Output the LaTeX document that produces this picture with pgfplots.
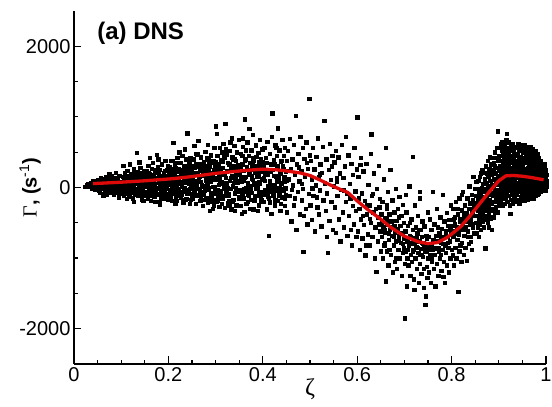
\documentclass[border=0pt]{standalone}
\usepackage{fontspec}
\setmainfont{Liberation Sans}
\newfontfamily\greekserif{Liberation Serif}
\usepackage{pgfplots}
\pgfplotsset{compat=1.18}
\definecolor{meanred}{RGB}{222,10,10}

% scattered DNS samples of Gamma against zeta
\pgfplotstableread{
x y
0.023 15
0.027 40
0.030 55
0.032 20
0.035 70
0.037 -10
0.039 45
0.041 90
0.042 5
0.044 60
0.045 -30
0.046 30
0.048 80
0.049 -15
0.050 50
0.051 110
0.052 -40
0.053 25
0.054 70
0.055 -70
0.056 140
0.057 10
0.058 55
0.059 -20
0.060 95
0.061 -85
0.062 35
0.063 120
0.064 0
0.065 75
0.066 -50
0.067 150
0.068 20
0.069 -95
0.070 60
0.071 100
0.072 -30
0.073 45
0.074 130
0.075 -10
0.076 80
0.077 -65
0.078 15
0.079 160
0.080 40
0.081 -45
0.082 110
0.083 65
0.084 -100
0.085 5
0.086 90
0.087 -25
0.088 140
0.089 30
0.090 -75
0.091 70
0.092 120
0.093 -5
0.094 -55
0.095 50
0.096 170
0.097 15
0.098 -90
0.099 85
0.100 35
0.062 -120
0.088 210
0.075 190
0.095 -140
0.101 60
0.102 -60
0.103 150
0.104 20
0.105 -110
0.106 95
0.107 200
0.108 -20
0.109 45
0.110 130
0.111 -85
0.112 10
0.113 240
0.114 75
0.115 -40
0.116 170
0.117 -130
0.118 35
0.119 110
0.120 -5
0.121 190
0.122 -70
0.123 60
0.124 140
0.125 -150
0.126 25
0.127 260
0.128 90
0.129 -35
0.130 -95
0.131 160
0.132 50
0.133 490
0.134 -15
0.135 220
0.136 115
0.137 -120
0.138 5
0.139 70
0.140 280
0.141 -60
0.142 185
0.143 40
0.144 -165
0.145 135
0.146 -25
0.147 -190
0.148 85
0.149 230
0.150 15
0.104 310
0.112 -160
0.118 330
0.126 -200
0.138 360
0.143 -5
0.121 100
0.108 175
0.131 -45
0.146 55
0.115 30
0.128 200
0.135 -80
0.149 120
0.140 -110
0.151 80
0.152 -100
0.153 240
0.154 20
0.155 150
0.156 -160
0.157 310
0.158 55
0.159 -40
0.160 190
0.161 115
0.162 -185
0.163 30
0.164 270
0.165 -70
0.166 90
0.167 350
0.168 -15
0.169 160
0.170 -130
0.171 45
0.172 220
0.173 -55
0.174 125
0.175 465
0.176 0
0.177 290
0.178 -95
0.179 70
0.180 180
0.181 -200
0.182 250
0.183 35
0.184 -30
0.185 140
0.186 330
0.187 -150
0.188 100
0.189 10
0.190 210
0.191 -75
0.192 60
0.193 380
0.194 -120
0.195 165
0.196 -10
0.197 245
0.198 85
0.199 -175
0.200 130
0.153 -60
0.158 200
0.163 -120
0.168 110
0.172 -200
0.178 400
0.183 150
0.188 -90
0.193 60
0.198 300
0.156 40
0.166 -20
0.176 230
0.186 -60
0.196 95
0.161 420
0.181 -240
0.201 40
0.202 -130
0.203 290
0.204 120
0.205 -40
0.206 380
0.207 200
0.208 -190
0.209 60
0.210 635
0.211 160
0.212 -80
0.213 330
0.214 10
0.215 240
0.216 -150
0.217 95
0.218 -190
0.219 420
0.220 145
0.221 -20
0.222 270
0.223 50
0.224 -110
0.225 350
0.226 185
0.227 -60
0.228 20
0.229 450
0.230 225
0.231 -210
0.232 110
0.233 300
0.234 -5
0.235 160
0.236 -170
0.237 400
0.238 75
0.239 -90
0.240 770
0.241 255
0.242 130
0.243 -35
0.244 360
0.245 -230
0.246 200
0.247 30
0.248 310
0.249 -120
0.250 100
0.203 -70
0.207 30
0.212 180
0.216 350
0.221 90
0.226 -140
0.231 250
0.236 65
0.241 -60
0.246 420
0.205 230
0.214 -220
0.223 500
0.232 -40
0.243 170
0.249 280
0.218 140
0.228 -100
0.238 210
0.209 380
0.234 540
0.247 -170
0.251 150
0.252 -160
0.253 400
0.254 60
0.255 -60
0.256 280
0.257 190
0.258 -230
0.259 480
0.260 30
0.261 -110
0.262 330
0.263 660
0.264 120
0.265 -20
0.266 240
0.267 -190
0.268 80
0.269 430
0.270 170
0.271 -80
0.272 310
0.273 -260
0.274 20
0.275 360
0.276 220
0.277 -40
0.278 510
0.279 100
0.280 -150
0.281 260
0.282 50
0.283 -210
0.284 400
0.285 140
0.286 -10
0.287 300
0.288 -330
0.289 90
0.290 460
0.291 200
0.292 -100
0.293 350
0.294 10
0.295 -180
0.296 250
0.297 560
0.298 130
0.299 -50
0.300 870
0.253 -110
0.258 90
0.262 210
0.267 340
0.271 40
0.276 -170
0.281 420
0.286 270
0.291 -70
0.296 -250
0.255 590
0.265 150
0.275 -100
0.285 230
0.295 380
0.257 -20
0.268 -140
0.279 310
0.289 170
0.299 290
0.261 470
0.283 610
0.294 -300
0.301 120
0.302 -200
0.303 450
0.304 250
0.305 -40
0.306 330
0.307 40
0.308 -270
0.309 560
0.310 180
0.311 -100
0.312 390
0.313 80
0.314 -150
0.315 280
0.316 620
0.317 -10
0.318 210
0.319 -290
0.320 900
0.321 140
0.322 -60
0.323 470
0.324 60
0.325 -220
0.326 350
0.327 240
0.328 -120
0.329 520
0.330 100
0.331 -20
0.332 300
0.333 -310
0.334 160
0.335 430
0.336 20
0.337 -170
0.338 260
0.339 590
0.340 130
0.341 -80
0.342 380
0.343 200
0.344 -250
0.345 500
0.346 70
0.347 -30
0.348 320
0.349 680
0.350 -140
0.304 -120
0.309 60
0.314 500
0.319 200
0.324 -30
0.329 -190
0.334 700
0.339 310
0.344 90
0.349 -60
0.306 150
0.313 -230
0.322 540
0.327 -90
0.336 400
0.343 -10
0.348 190
0.311 260
0.318 430
0.331 640
0.341 -330
0.347 270
0.302 760
0.351 200
0.352 -260
0.353 480
0.354 90
0.355 -375
0.356 330
0.357 -40
0.358 580
0.359 240
0.360 -150
0.361 140
0.362 970
0.363 400
0.364 -10
0.365 -230
0.366 290
0.367 640
0.368 60
0.369 -100
0.370 450
0.371 180
0.372 -300
0.373 350
0.374 20
0.375 530
0.376 -70
0.377 260
0.378 750
0.379 110
0.380 -305
0.381 380
0.382 -180
0.383 210
0.384 40
0.385 600
0.386 -120
0.387 310
0.388 150
0.389 -20
0.390 490
0.391 -250
0.392 80
0.393 680
0.394 230
0.395 -60
0.396 400
0.397 -200
0.398 120
0.399 540
0.400 -90
0.354 150
0.359 -20
0.364 530
0.369 250
0.374 -170
0.379 420
0.384 310
0.389 -330
0.394 50
0.399 230
0.357 700
0.366 -60
0.376 170
0.386 440
0.396 -140
0.371 830
0.391 360
0.361 -340
0.382 70
0.401 300
0.402 -200
0.403 560
0.404 100
0.405 -60
0.406 420
0.407 230
0.408 -310
0.409 650
0.410 20
0.411 180
0.412 -150
0.413 -680
0.414 480
0.415 90
0.416 -40
0.417 330
0.418 -375
0.419 720
0.420 1050
0.421 250
0.422 -110
0.423 390
0.424 40
0.425 -250
0.426 600
0.427 160
0.428 -20
0.429 450
0.430 280
0.431 -190
0.432 840
0.433 120
0.434 -80
0.435 530
0.436 210
0.437 -330
0.438 370
0.439 60
0.440 -140
0.441 680
0.442 300
0.443 -40
0.444 450
0.445 150
0.446 -260
0.447 560
0.448 230
0.449 -100
0.450 380
0.405 200
0.415 -210
0.425 330
0.435 -10
0.445 90
0.409 -80
0.428 560
0.438 -230
0.451 -350
0.453 520
0.454 120
0.456 -120
0.457 690
0.459 260
0.460 -480
0.462 400
0.463 30
0.465 -250
0.466 610
0.468 180
0.470 1020
0.471 -600
0.472 330
0.474 -60
0.475 480
0.477 90
0.478 -380
0.479 720
0.481 240
0.482 -180
0.484 560
0.485 -20
0.486 -910
0.488 410
0.489 150
0.491 -300
0.492 640
0.494 -520
0.495 270
0.497 -90
0.498 1260
0.499 460
0.500 -250
0.455 240
0.467 -150
0.476 290
0.483 50
0.493 350
0.461 -30
0.487 -400
0.501 380
0.503 -460
0.504 120
0.506 560
0.507 -120
0.509 260
0.510 -620
0.512 30
0.513 440
0.515 -280
0.516 700
0.518 150
0.519 -380
0.521 -40
0.522 330
0.524 -550
0.525 210
0.527 580
0.528 -180
0.530 950
0.531 60
0.533 -330
0.534 400
0.536 -80
0.538 -920
0.539 250
0.541 -470
0.542 620
0.544 110
0.545 -200
0.547 450
0.548 -600
0.550 20
0.505 -10
0.520 190
0.535 -700
0.546 300
0.514 -140
0.551 360
0.552 -280
0.554 520
0.555 -640
0.557 80
0.558 -120
0.560 430
0.561 -450
0.563 200
0.564 -760
0.566 -30
0.567 610
0.569 -350
0.570 140
0.572 -560
0.573 300
0.575 -200
0.576 720
0.578 -80
0.579 -680
0.581 460
0.582 -400
0.584 50
0.585 -150
0.587 340
0.588 -820
0.590 -260
0.591 180
0.593 -520
0.594 560
0.596 -50
0.597 -330
0.599 260
0.600 995
0.556 140
0.571 -40
0.586 -600
0.598 -700
0.601 -620
0.602 150
0.604 -300
0.605 -880
0.607 420
0.608 -450
0.610 -80
0.611 -720
0.613 230
0.614 -530
0.616 -190
0.617 -960
0.619 340
0.620 -380
0.622 -660
0.623 40
0.625 -250
0.626 -820
0.628 480
0.629 -500
0.630 755
0.631 -120
0.632 -700
0.634 -350
0.635 200
0.637 -1000
0.638 -560
0.640 -1190
0.641 -20
0.643 -420
0.644 -760
0.646 310
0.647 -280
0.649 -620
0.650 -900
0.603 -150
0.612 -400
0.618 -820
0.627 -440
0.633 -90
0.639 -300
0.645 -520
0.606 320
0.621 -240
0.648 -160
0.651 -380
0.652 -700
0.653 -200
0.654 -1000
0.655 -560
0.656 120
0.657 -820
0.658 -430
0.659 -640
0.660 565
0.661 -1330
0.662 -300
0.663 -900
0.664 -520
0.665 -60
0.666 -1100
0.667 -740
0.668 -380
0.669 -600
0.670 250
0.671 -950
0.672 -480
0.673 -680
0.674 -180
0.675 -1200
0.676 -560
0.677 -820
0.678 -350
0.679 -1050
0.680 -640
0.681 -20
0.682 -760
0.683 -470
0.684 -1150
0.685 -580
0.686 -300
0.687 -880
0.688 -690
0.689 -130
0.690 -1000
0.691 -540
0.692 -780
0.693 -400
0.694 -1250
0.695 -650
0.696 -240
0.697 -920
0.698 -720
0.699 -500
0.700 -1080
0.658 -780
0.668 -880
0.678 -540
0.688 -420
0.698 -860
0.663 -250
0.683 -1000
0.701 -1850
0.702 -620
0.703 -900
0.704 -350
0.705 -1400
0.706 -760
0.707 -540
0.708 -1100
0.709 -820
0.710 20
0.711 -680
0.712 -1250
0.713 -950
0.714 -450
0.715 -780
0.716 -1050
0.717 -600
0.718 440
0.719 -880
0.720 -1300
0.721 -720
0.722 -250
0.723 -1000
0.724 -560
0.725 -840
0.726 -1150
0.727 -650
0.728 -400
0.729 -920
0.730 -1350
0.731 -760
0.732 -150
0.733 -1080
0.734 -600
0.735 -870
0.736 -1220
0.737 -700
0.738 -480
0.739 -980
0.740 -790
0.741 -1420
0.742 -550
0.743 -900
0.744 -1660
0.745 -1540
0.746 -680
0.747 -1120
0.748 -830
0.749 -350
0.750 -1000
0.706 -1000
0.716 -800
0.726 -700
0.736 -950
0.746 -900
0.711 -500
0.721 -1450
0.731 -600
0.741 -1150
0.703 -100
0.733 -60
0.748 -1280
0.751 -700
0.752 -1200
0.753 -950
0.754 -450
0.755 -820
0.756 -1350
0.757 -600
0.758 -1050
0.759 -880
0.760 -60
0.761 -740
0.762 -1150
0.763 -520
0.764 -950
0.765 -1400
0.766 -680
0.767 -860
0.768 -300
0.769 -1080
0.770 -760
0.771 -560
0.772 -1250
0.773 -900
0.774 -640
0.775 -1000
0.776 -420
0.777 -780
0.778 -1180
0.779 -580
0.780 -880
0.781 -100
0.782 -700
0.783 -1050
0.784 -480
0.785 -820
0.786 -1350
0.787 -620
0.788 -920
0.789 -360
0.790 -1100
0.791 -700
0.792 -540
0.793 -850
0.794 -1200
0.795 -460
0.796 -760
0.797 -1000
0.798 -250
0.799 -620
0.800 -880
0.757 -1000
0.767 -680
0.777 -950
0.787 -800
0.797 -560
0.762 -850
0.782 -1260
0.801 -540
0.802 -960
0.803 -300
0.804 -700
0.805 -1100
0.806 -620
0.807 -420
0.808 -850
0.809 -200
0.810 -1000
0.811 -560
0.812 -740
0.813 -380
0.814 -1480
0.815 -660
0.816 -150
0.817 -900
0.818 -480
0.819 -600
0.820 -1050
0.821 -320
0.822 -780
0.823 -520
0.824 -60
0.825 -950
0.826 -440
0.827 -680
0.828 -250
0.829 -850
0.830 -560
0.831 -360
0.832 -1040
0.833 -150
0.834 -620
0.835 -420
0.836 -800
0.837 20
0.838 -530
0.839 -300
0.840 -700
0.841 -460
0.842 -100
0.843 -880
0.844 -350
0.845 -560
0.846 150
0.847 -240
0.848 -650
0.849 -400
0.850 -20
0.805 -450
0.812 -300
0.818 -820
0.822 -100
0.828 -600
0.833 -480
0.838 -220
0.843 -520
0.848 -300
0.808 -650
0.815 -900
0.825 -360
0.835 -700
0.845 -180
0.841 -770
0.851 -500
0.851 -120
0.852 -300
0.852 80
0.853 -650
0.853 -220
0.854 -400
0.854 -20
0.855 -560
0.855 -180
0.856 -320
0.856 100
0.857 -450
0.857 -80
0.858 -250
0.858 -700
0.859 150
0.859 -380
0.860 -150
0.860 -520
0.861 -40
0.861 -300
0.862 -600
0.862 200
0.863 -220
0.863 -420
0.864 0
0.864 -130
0.865 -480
0.865 250
0.866 -340
0.866 -60
0.867 210
0.867 -250
0.868 -560
0.868 50
0.869 -160
0.869 -400
0.870 120
0.870 -300
0.871 -860
0.871 -20
0.872 -200
0.872 300
0.873 -450
0.873 60
0.874 -120
0.874 -330
0.875 200
0.875 -60
0.876 -500
0.876 380
0.877 -240
0.877 20
0.878 -380
0.878 150
0.879 -100
0.879 -560
0.880 260
0.880 -180
0.881 440
0.881 -20
0.882 -320
0.882 100
0.883 -440
0.883 330
0.884 -80
0.884 -220
0.885 180
0.885 -600
0.886 40
0.886 420
0.887 -300
0.887 -120
0.888 250
0.888 -420
0.889 0
0.889 350
0.890 -200
0.890 120
0.891 -60
0.891 500
0.892 -350
0.892 200
0.893 40
0.893 -150
0.894 420
0.894 -280
0.895 280
0.895 -40
0.896 -200
0.896 560
0.897 100
0.897 -350
0.898 800
0.898 160
0.899 -100
0.899 380
0.900 -260
0.900 240
0.901 -180
0.901 150
0.901 450
0.902 40
0.902 560
0.903 -80
0.903 300
0.904 620
0.904 180
0.904 -220
0.905 0
0.905 380
0.906 -120
0.906 240
0.906 520
0.907 90
0.907 650
0.908 -250
0.908 330
0.909 200
0.909 -30
0.909 470
0.910 560
0.910 60
0.911 -160
0.911 280
0.911 410
0.912 130
0.912 620
0.913 -60
0.913 350
0.913 -230
0.914 500
0.914 190
0.915 20
0.915 420
0.915 -140
0.916 270
0.916 680
0.917 760
0.917 -90
0.917 110
0.918 380
0.918 -200
0.919 220
0.919 560
0.919 30
0.920 -120
0.920 460
0.921 300
0.921 80
0.921 640
0.922 -40
0.922 180
0.923 520
0.923 -250
0.923 360
0.924 -375
0.924 240
0.924 100
0.925 600
0.925 -20
0.926 150
0.926 430
0.926 -170
0.927 280
0.927 20
0.928 -100
0.928 540
0.928 350
0.929 70
0.929 200
0.930 620
0.930 -220
0.930 410
0.931 130
0.931 -60
0.932 320
0.932 500
0.932 0
0.933 -150
0.933 240
0.934 580
0.934 90
0.934 380
0.935 -40
0.935 180
0.936 460
0.936 -200
0.936 300
0.937 20
0.937 560
0.938 580
0.938 140
0.938 -100
0.939 360
0.939 230
0.940 -170
0.940 480
0.940 60
0.941 270
0.941 620
0.942 -60
0.942 170
0.942 400
0.943 520
0.943 -220
0.944 80
0.944 300
0.944 -10
0.945 440
0.945 200
0.946 -140
0.946 560
0.946 120
0.947 340
0.947 -40
0.948 600
0.948 240
0.948 30
0.949 -190
0.949 420
0.950 150
0.950 580
0.950 280
0.951 -120
0.951 320
0.951 60
0.952 500
0.952 180
0.953 -30
0.953 410
0.953 240
0.954 600
0.954 -180
0.955 120
0.955 350
0.955 -60
0.956 260
0.956 540
0.957 -150
0.957 30
0.957 440
0.958 200
0.958 580
0.959 -90
0.959 380
0.959 100
0.960 480
0.960 -10
0.961 280
0.961 150
0.961 -170
0.962 560
0.962 60
0.963 -60
0.963 330
0.963 220
0.964 460
0.964 -140
0.965 100
0.965 520
0.965 10
0.966 250
0.966 -80
0.967 400
0.967 160
0.967 580
0.968 -160
0.968 300
0.969 50
0.969 470
0.969 200
0.970 -40
0.970 360
0.971 540
0.971 120
0.971 -110
0.972 240
0.972 420
0.973 -20
0.973 80
0.973 500
0.974 310
0.974 -150
0.975 180
0.975 450
0.975 30
0.976 -80
0.976 260
0.977 380
0.977 520
0.977 100
0.978 -120
0.978 210
0.979 440
0.979 0
0.979 300
0.980 150
0.980 -60
0.981 350
0.981 60
0.981 480
0.982 -100
0.982 220
0.983 400
0.983 120
0.983 -20
0.984 280
0.984 20
0.985 170
0.985 420
0.985 -80
0.986 80
0.986 330
0.987 300
0.987 -40
0.987 200
0.988 130
0.988 380
0.989 -60
0.989 250
0.989 60
0.990 320
0.990 170
0.991 0
0.991 100
0.991 270
0.992 220
0.992 -30
0.993 340
0.993 140
0.993 40
0.994 -10
0.994 260
0.995 180
0.995 80
0.995 300
0.996 10
0.996 230
0.997 120
0.997 280
0.997 -20
0.998 60
0.998 200
0.999 150
0.999 250
0.999 30
1.000 90
1.000 180
}\samples

% further samples in the densely populated cores
\pgfplotstableread{
x y
0.102 30
0.106 -40
0.109 120
0.113 -90
0.117 80
0.121 -20
0.124 170
0.128 -60
0.132 100
0.136 -110
0.139 150
0.142 -30
0.145 60
0.148 -80
0.151 200
0.154 -120
0.157 110
0.160 -50
0.163 180
0.166 30
0.169 -100
0.172 140
0.175 -10
0.178 210
0.181 70
0.184 -140
0.187 160
0.190 -40
0.193 240
0.196 20
0.199 -90
0.202 190
0.205 -150
0.208 120
0.211 -20
0.214 280
0.217 40
0.220 -120
0.223 220
0.226 80
0.229 -60
0.232 310
0.235 0
0.238 -160
0.241 170
0.244 60
0.247 -90
0.250 250
0.252 -10
0.255 200
0.258 -120
0.261 100
0.264 300
0.267 -60
0.270 40
0.273 250
0.276 -170
0.279 150
0.282 -30
0.285 330
0.288 80
0.291 -140
0.294 200
0.297 10
0.300 -90
0.302 280
0.305 -180
0.308 130
0.311 -50
0.314 370
0.317 60
0.320 -120
0.323 230
0.326 -10
0.329 330
0.332 140
0.335 -200
0.338 70
0.341 400
0.344 -60
0.347 180
0.350 -160
0.353 300
0.356 -100
0.359 100
0.362 380
0.365 0
0.368 -200
0.371 240
0.374 -50
0.377 130
0.380 410
0.383 -130
0.386 210
0.389 30
0.392 -80
0.395 300
0.398 -170
0.402 130
0.405 -30
0.408 350
0.411 -130
0.414 60
0.417 230
0.420 -60
0.423 170
0.426 -180
0.429 90
0.432 300
0.435 -110
0.438 200
0.441 -20
0.444 260
0.447 -150
0.450 100
0.1045 0
0.1115 50
0.1185 -50
0.1255 90
0.1325 -20
0.1395 200
0.1465 -120
0.1535 140
0.1605 40
0.1675 -60
0.1745 250
0.1815 -10
0.1885 130
0.1955 -150
0.2025 60
0.2095 260
0.2165 -70
0.2235 150
0.2305 -180
0.2375 300
0.2445 -20
0.2515 90
0.2585 340
0.2655 -100
0.2725 210
0.2795 20
0.2865 -200
0.2935 120
0.3005 360
0.3075 -80
0.3145 190
0.3215 20
0.3285 -250
0.3355 280
0.3425 120
0.3495 -40
0.3565 450
0.3635 150
0.3705 -120
0.3775 320
0.3845 -20
0.3915 180
0.3985 360
0.4055 -100
0.4125 250
0.4195 20
0.4265 -40
0.4335 150
0.4405 380
0.4475 -10
0.652 -500
0.657 -600
0.662 -450
0.667 -650
0.672 -560
0.677 -700
0.682 -600
0.687 -750
0.692 -650
0.697 -800
0.702 -720
0.707 -880
0.712 -700
0.717 -900
0.722 -780
0.727 -850
0.732 -950
0.737 -780
0.742 -850
0.747 -720
0.752 -880
0.757 -800
0.762 -950
0.767 -760
0.772 -850
0.777 -700
0.782 -800
0.787 -650
0.792 -780
0.797 -600
0.802 -700
0.807 -520
0.812 -620
0.817 -450
0.822 -560
0.827 -380
0.832 -480
0.837 -300
0.842 -400
0.847 -250
0.861 -100
0.864 -350
0.867 50
0.870 -200
0.873 -30
0.876 150
0.879 -280
0.882 0
0.885 220
0.888 -100
0.891 300
0.894 50
0.897 -160
0.900 400
0.902 -50
0.904 300
0.906 100
0.908 480
0.910 -100
0.912 250
0.914 0
0.916 400
0.918 100
0.920 200
0.922 550
0.924 350
0.926 0
0.928 220
0.930 100
0.932 420
0.934 -80
0.936 150
0.938 300
0.940 200
0.942 520
0.944 120
0.946 350
0.948 -100
0.950 400
0.952 50
0.954 250
0.956 100
0.958 350
0.960 180
0.962 -50
0.964 280
0.966 420
0.968 100
0.970 200
0.972 -30
0.974 150
0.976 380
0.978 60
0.980 250
0.982 100
0.984 350
0.986 -20
0.988 200
0.990 50
0.992 150
0.994 100
0.996 330
0.998 -40
1.000 20
0.9035 100
0.9075 200
0.9115 -20
0.9155 330
0.9195 120
0.9235 450
0.9275 170
0.9315 250
0.9355 50
0.9395 470
0.9435 350
0.9475 150
0.9515 250
0.9555 -120
0.9595 220
0.9635 400
0.9675 280
0.9715 0
0.9755 330
0.9795 120
0.9835 230
0.9875 110
0.9915 200
0.9955 40
}\samplesextra

% conditional mean
\pgfplotstableread{
x y
0.04 55
0.10 75
0.15 95
0.21 125
0.25 155
0.30 200
0.33 220
0.36 240
0.40 260
0.43 250
0.45 235
0.48 205
0.50 170
0.52 110
0.54 45
0.56 -15
0.58 -70
0.60 -190
0.62 -300
0.65 -450
0.67 -560
0.70 -690
0.73 -770
0.75 -795
0.77 -780
0.79 -710
0.80 -660
0.82 -550
0.84 -395
0.86 -225
0.88 -60
0.90 95
0.915 165
0.93 170
0.95 160
0.97 140
0.995 110
}\meanline

\begin{document}
\begin{tikzpicture}
\begin{axis}[
  scale only axis,
  width=472pt, height=353pt,
  xmin=0, xmax=1, ymin=-2500, ymax=2500,
  axis x line*=bottom, axis y line*=left,
  axis line style={line width=1.7pt},
  every tick/.style={line width=1.2pt, black},
  tick align=inside,
  major tick length=7.5pt, minor tick length=4.3pt,
  xtick={0,0.2,0.4,0.6,0.8,1}, minor x tick num=3,
  ytick={-2000,0,2000}, minor y tick num=3,
  scaled ticks=false,
  /pgf/number format/1000 sep={},
  /pgf/number format/assume math mode=true,
  tick label style={font=\fontsize{20}{20}\selectfont},
  xlabel={\greekserif ζ},
  xlabel style={font=\fontsize{24}{24}\selectfont, at={(axis description cs:0.5,-0.04)}, anchor=north, inner sep=0pt},
  ylabel={{\greekserif Γ}\textbf{, (s}\textsuperscript{-1}\textbf{)}},
  ylabel style={font=\fontsize{20}{20}\selectfont, at={(axis description cs:-0.093,0.5)}, anchor=center, rotate=0},
  clip=false,
  clip marker paths=true,
]
\addplot[only marks, mark=square*, mark size=1.7pt, black] table[x=x, y=y] {\samples};
\addplot[only marks, mark=square*, mark size=1.7pt, black] table[x=x, y=y] {\samplesextra};
\addplot[meanred, line width=3.3pt, line join=round] table[x=x, y=y] {\meanline};
\node[anchor=base west, inner sep=0pt, font=\bfseries\fontsize{24}{24}\selectfont] at (rel axis cs:0.049,0.918) {(a) DNS};
\end{axis}
\pgfresetboundingbox
\path[use as bounding box] ([shift={(-74pt,-43pt)}]current axis.south west) rectangle ([shift={(6pt,11pt)}]current axis.north east);
\end{tikzpicture}
\end{document}
